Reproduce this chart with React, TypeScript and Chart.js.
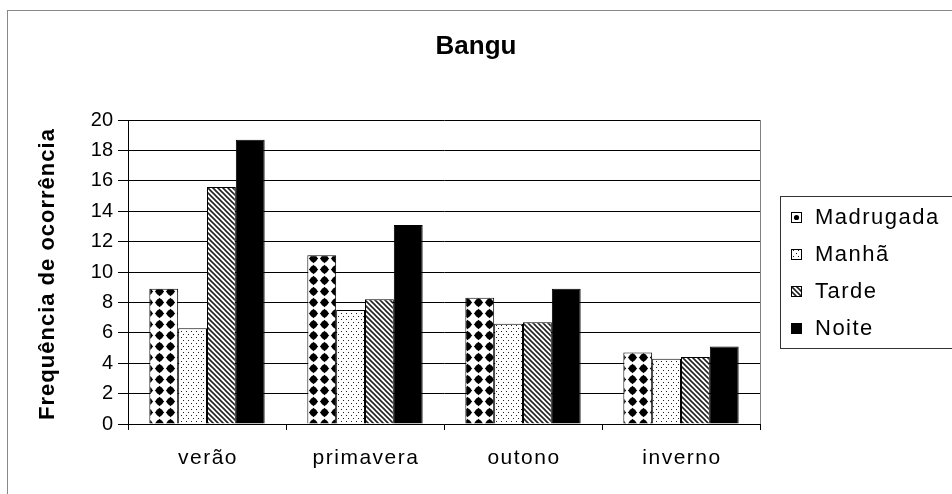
import React, { useEffect, useRef } from "react";
import { Chart, registerables } from "chart.js";

Chart.register(...registerables);

const chartTitle = "Bangu";
const yAxisTitle = "Frequência de ocorrência";
const categories = ["verão", "primavera", "outono", "inverno"];
const seriesNames = ["Madrugada", "Manhã", "Tarde", "Noite"];
const madrugada = [8.9, 11.1, 8.3, 4.7];
const manha = [6.3, 7.5, 6.6, 4.3];
const tarde = [15.6, 8.2, 6.7, 4.4];
const noite = [18.7, 13.1, 8.9, 5.1];
const yMin = 0;
const yMax = 20;
const yStep = 2;

const FONT = "'Liberation Sans', Arial, sans-serif";

function makePattern(kind: string): CanvasPattern | string {
  const c = document.createElement("canvas");
  const ctx = c.getContext("2d")!;
  if (kind === "bigdots") {
    c.width = 11;
    c.height = 11;
    ctx.fillStyle = "#fff";
    ctx.fillRect(0, 0, 11, 11);
    ctx.fillStyle = "#000";
    ctx.beginPath();
    ctx.moveTo(5.5, 0.8);
    ctx.lineTo(10.2, 5.5);
    ctx.lineTo(5.5, 10.2);
    ctx.lineTo(0.8, 5.5);
    ctx.closePath();
    ctx.fill();
    ctx.beginPath();
    ctx.arc(5.5, 5.5, 3.4, 0, Math.PI * 2);
    ctx.fill();
  } else if (kind === "smalldots") {
    c.width = 5;
    c.height = 6;
    ctx.fillStyle = "#fff";
    ctx.fillRect(0, 0, 5, 6);
    ctx.fillStyle = "#222";
    ctx.fillRect(1, 1, 1, 1);
    ctx.fillRect(3, 4, 1, 1);
  } else if (kind === "diag") {
    c.width = 5;
    c.height = 5;
    ctx.fillStyle = "#fff";
    ctx.fillRect(0, 0, 5, 5);
    ctx.strokeStyle = "#222";
    ctx.lineWidth = 1.6;
    ctx.beginPath();
    ctx.moveTo(-1, -1);
    ctx.lineTo(6, 6);
    ctx.moveTo(-1, 4);
    ctx.lineTo(1, 6);
    ctx.moveTo(4, -1);
    ctx.lineTo(6, 1);
    ctx.stroke();
  } else {
    return "#000";
  }
  return ctx.createPattern(c, "repeat")!;
}

export default function App() {
  const ref = useRef<HTMLCanvasElement | null>(null);

  useEffect(() => {
    if (!ref.current) return;
    const fills = [
      makePattern("bigdots"),
      makePattern("smalldots"),
      makePattern("diag"),
      makePattern("solid"),
    ];
    const values = [madrugada, manha, tarde, noite];

    const decor = {
      id: "decor",
      beforeDraw(chart: any) {
        const ctx = chart.ctx;
        ctx.save();
        ctx.fillStyle = "#fff";
        ctx.fillRect(0, 0, chart.width, chart.height);
        ctx.strokeStyle = "#888";
        ctx.lineWidth = 1;
        ctx.strokeRect(7.5, 10.5, 1200, 1200);
        ctx.restore();
      },
      afterDraw(chart: any) {
        const ctx = chart.ctx;
        const area = chart.chartArea;
        ctx.save();
        // title
        ctx.fillStyle = "#000";
        ctx.font = `bold 26px ${FONT}`;
        ctx.textAlign = "center";
        ctx.textBaseline = "middle";
        ctx.fillText(chartTitle, 476, 47);
        // y axis title
        ctx.save();
        ctx.translate(48, (area.top + area.bottom) / 2 + 2);
        ctx.rotate(-Math.PI / 2);
        ctx.font = `bold 22px ${FONT}`;
        (ctx as any).letterSpacing = "1px";
        ctx.textAlign = "center";
        ctx.textBaseline = "middle";
        ctx.fillText(yAxisTitle, 0, 0);
        ctx.restore();
        // x labels
        const xs = chart.scales.x;
        ctx.font = `21px ${FONT}`;
        (ctx as any).letterSpacing = "1.5px";
        ctx.textAlign = "center";
        ctx.textBaseline = "middle";
        chart.data.labels.forEach((lab: string, i: number) => {
          ctx.fillText(lab, xs.getPixelForValue(i) + 1, 458);
        });
        // plot right edge
        (ctx as any).letterSpacing = "0px";
        ctx.strokeStyle = "#808080";
        ctx.lineWidth = 1;
        ctx.beginPath();
        ctx.moveTo(Math.round(area.right) + 0.5, area.top);
        ctx.lineTo(Math.round(area.right) + 0.5, area.bottom);
        ctx.stroke();
        // legend
        ctx.strokeStyle = "#333";
        ctx.strokeRect(780.5, 196.5, 300, 152);
        ctx.font = `22px ${FONT}`;
        (ctx as any).letterSpacing = "1.5px";
        ctx.textAlign = "left";
        chart.data.datasets.forEach((ds: any, i: number) => {
          const cy = 216.5 + i * 37.3;
          const top = Math.round(cy) - 5;
          if (i === 0) {
            ctx.fillStyle = "#fff";
            ctx.fillRect(791, top, 11, 11);
            ctx.fillStyle = "#000";
            ctx.beginPath();
            ctx.arc(796.5, top + 5.5, 2.6, 0, Math.PI * 2);
            ctx.fill();
          } else {
            ctx.fillStyle = ds.backgroundColor;
            ctx.fillRect(791, top, 11, 11);
          }
          ctx.strokeStyle = "#000";
          ctx.strokeRect(791.5, top + 0.5, 10, 10);
          ctx.fillStyle = "#000";
          ctx.fillText(ds.label, 815, cy + 1);
        });
        ctx.restore();
      },
    };

    const chart = new Chart(ref.current, {
      type: "bar",
      data: {
        labels: categories,
        datasets: seriesNames.map((name, i) => ({
          label: name,
          data: values[i],
          backgroundColor: fills[i] as any,
          borderColor: "#000",
          borderWidth: 1,
          categoryPercentage: 0.73,
          barPercentage: 1,
        })),
      },
      options: {
        responsive: false,
        animation: false,
        devicePixelRatio: 1,
        layout: { padding: { top: 120, right: 192, bottom: 0, left: 0 } },
        plugins: {
          legend: { display: false },
          title: { display: false },
          tooltip: { enabled: false },
        },
        scales: {
          x: {
            offset: true,
            grid: {
              offset: true,
              drawOnChartArea: false,
              drawTicks: true,
              tickLength: 6,
              color: "#000",
            },
            border: { color: "#000", width: 1 },
            ticks: { display: false },
            afterFit(scale: any) {
              scale.height = 70;
            },
          },
          y: {
            min: yMin,
            max: yMax,
            ticks: {
              stepSize: yStep,
              color: "#000",
              font: { family: FONT, size: 20 },
              padding: 5,
            },
            grid: {
              color: "#000",
              lineWidth: 1,
              tickLength: 10,
              drawTicks: true,
            },
            border: { color: "#000", width: 1 },
            afterFit(scale: any) {
              scale.width = 128;
            },
          },
        },
      },
      plugins: [decor],
    });

    return () => chart.destroy();
  }, []);

  return (
    <div style={{ position: "absolute", left: 0, top: 0, width: 952, height: 494 }}>
      <canvas ref={ref} width={952} height={494} style={{ display: "block" }} />
    </div>
  );
}
